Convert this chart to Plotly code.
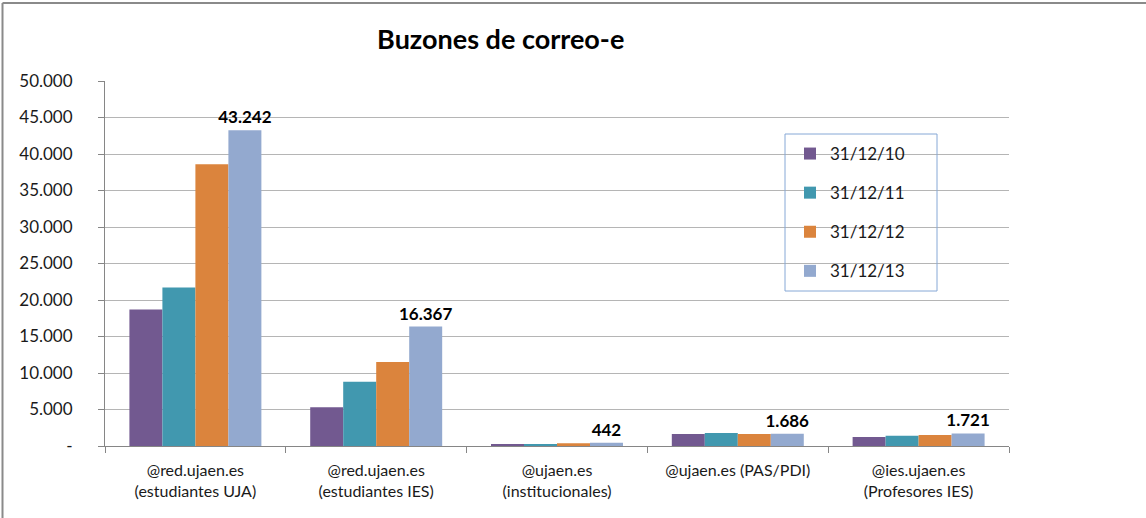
import plotly.graph_objects as go

categories = [
    "@red.ujaen.es<br>(estudiantes UJA)",
    "@red.ujaen.es<br>(estudiantes IES)",
    "@ujaen.es<br>(institucionales)",
    "@ujaen.es (PAS/PDI)",
    "@ies.ujaen.es<br>(Profesores IES)",
]
series_names = ["31/12/10", "31/12/11", "31/12/12", "31/12/13"]
v_2010 = [18700, 5300, 230, 1650, 1250]
v_2011 = [21700, 8800, 250, 1780, 1400]
v_2012 = [38600, 11500, 370, 1650, 1500]
v_2013 = [43242, 16367, 442, 1686, 1721]
series_values = [v_2010, v_2011, v_2012, v_2013]
colors = ["#725990", "#4198AF", "#DB843D", "#93A9CF"]
labelled_series = "31/12/13"

y_tickvals = [0, 5000, 10000, 15000, 20000, 25000, 30000, 35000, 40000, 45000, 50000]
y_ticktext = ["-", "5.000", "10.000", "15.000", "20.000", "25.000", "30.000",
              "35.000", "40.000", "45.000", "50.000"]

W, H = 1146, 518
ML, MR, MT, MB = 105, 137, 81, 72
PW, PH = W - ML - MR, H - MT - MB

def px_x(x):
    return (x - ML) / PW

def px_y(y):
    return (H - MB - y) / PH

FONT = "Lato, 'Open Sans', sans-serif"

fig = go.Figure()
for i, (name, vals, col) in enumerate(zip(series_names, series_values, colors)):
    show_text = name == labelled_series
    fig.add_trace(go.Bar(
        x=categories, y=vals, name=name, marker_color=col,
        marker_line_width=0,
        legendgroup=name,
        text=[f"{v:,}".replace(",", ".") for v in vals] if show_text else None,
        textposition="outside" if show_text else "none",
        constraintext="none",
        textfont=dict(family=FONT, size=17, color="#000000", weight="bold"),
        cliponaxis=False,
        hoverinfo="skip",
    ))

fig.update_layout(
    width=W, height=H,
    margin=dict(l=ML, r=MR, t=MT, b=MB),
    paper_bgcolor="white", plot_bgcolor="white",
    barmode="group", bargap=0.27, bargroupgap=0,
    font=dict(family=FONT, size=16, color="#1a1a1a"),
    title=dict(text="<b>Buzones de correo-e</b>", x=px_x(500), xanchor="center",
               y=1 - 40 / H, yanchor="middle",
               font=dict(family=FONT, size=27, color="#000000")),
    showlegend=True,
    legend=dict(x=px_x(790), y=px_y(136), xanchor="left", yanchor="top",
                bgcolor="rgba(0,0,0,0)", borderwidth=0,
                traceorder="grouped", tracegroupgap=14,
                font=dict(family=FONT, size=17, color="#1a1a1a"),
                itemwidth=30),
    xaxis=dict(showline=True, linecolor="#868686", linewidth=1,
               ticks="outside", ticklen=6, tickcolor="#868686", tickson="boundaries",
               tickfont=dict(family=FONT, size=16, color="#1a1a1a"),
               ticklabelstandoff=10,
               showgrid=False),
    yaxis=dict(range=[0, 50000], tickvals=y_tickvals, ticktext=y_ticktext,
               showline=True, linecolor="#868686", linewidth=1,
               ticks="outside", ticklen=6, tickcolor="#868686",
               ticklabelstandoff=22,
               showgrid=True, gridcolor="#B5B5B5", gridwidth=1,
               zeroline=False,
               tickfont=dict(family=FONT, size=17, color="#1a1a1a")),
    shapes=[
        dict(type="rect", xref="paper", yref="paper",
             x0=px_x(785), x1=px_x(937), y0=px_y(291), y1=px_y(134),
             line=dict(color="#86A8D6", width=1), fillcolor="rgba(0,0,0,0)",
             layer="above"),
        dict(type="line", xref="paper", yref="paper",
             x0=px_x(2.5), x1=px_x(W), y0=px_y(3), y1=px_y(3),
             line=dict(color="#8A8A8A", width=2)),
        dict(type="line", xref="paper", yref="paper",
             x0=px_x(2.5), x1=px_x(2.5), y0=px_y(3), y1=px_y(H),
             line=dict(color="#8A8A8A", width=2)),
    ],
)

fig.write_html("out.html",
               config={"displayModeBar": False},
               post_script="document.body.style.margin='0';document.body.style.overflow='hidden';")
